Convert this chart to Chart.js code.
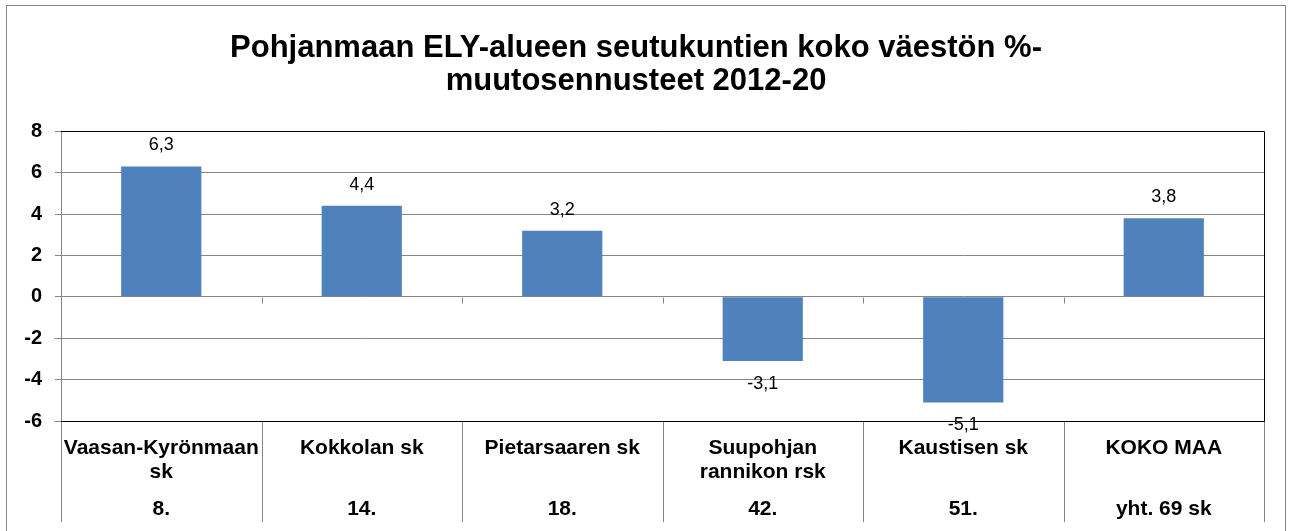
<!DOCTYPE html>
<html>
<head>
<meta charset="utf-8">
<script src="https://cdn.jsdelivr.net/npm/chart.js@4"></script>
<style>
  body { margin: 0; background: #fff; }
  #wrap { width: 1294px; height: 531px; position: relative; }
</style>
</head>
<body>
<div id="wrap"><canvas id="myChart"></canvas></div>
<script>
const colorBar = '#4f81bd';
const colorGrid = '#868686';

const titleLines = ['Pohjanmaan ELY-alueen seutukuntien koko väestön %-', 'muutosennusteet 2012-20'];
const categories = [['Vaasan-Kyrönmaan', 'sk'], ['Kokkolan sk'], ['Pietarsaaren sk'], ['Suupohjan', 'rannikon rsk'], ['Kaustisen sk'], ['KOKO MAA']];
const ranks = ['8.', '14.', '18.', '42.', '51.', 'yht. 69 sk'];
const values = [6.3, 4.4, 3.2, -3.1, -5.1, 3.8];
const yMin = -6;
const yMax = 8;
const yStep = 2;

Chart.defaults.font.family = "'Liberation Sans', Arial, sans-serif";
Chart.defaults.color = '#000';

// frame, table lines, data labels
const extras = {
  id: 'extras',
  beforeDraw(chart) {
    const c = chart.ctx;
    c.save();
    c.strokeStyle = colorGrid;
    c.lineWidth = 1;
    c.strokeRect(6.5, 5.5, 1279, 600);
    c.restore();
  },
  afterDatasetsDraw(chart) {
    const c = chart.ctx;
    const meta = chart.getDatasetMeta(0);
    c.save();
    c.font = "18px 'Liberation Sans', Arial, sans-serif";
    c.fillStyle = '#000';
    c.textAlign = 'center';
    c.textBaseline = 'middle';
    meta.data.forEach((bar, i) => {
      const v = values[i];
      const y = v >= 0 ? bar.y - 21 : bar.y + 23;
      c.fillText(v.toFixed(1).replace('.', ','), bar.x, y);
    });
    c.restore();
  },
  afterDraw(chart) {
    const c = chart.ctx;
    const a = chart.chartArea;
    const yS = chart.scales.y;
    const step = (a.right - a.left) / categories.length;
    const zero = Math.round(yS.getPixelForValue(0)) + 0.5;
    c.save();
    c.lineWidth = 1;
    c.strokeStyle = colorGrid;
    for (let i = 0; i <= categories.length; i++) {
      const x = Math.round(a.left + i * step) + 0.5;
      c.beginPath();
      c.moveTo(x, a.bottom);
      c.lineTo(x, a.bottom + 101);
      if (i > 0 && i < categories.length) {
        c.moveTo(x, zero);
        c.lineTo(x, zero + 6);
      }
      c.stroke();
    }
    c.strokeStyle = '#000';
    c.beginPath();
    c.moveTo(a.left, Math.round(a.top) + 0.5);
    c.lineTo(Math.round(a.right) + 0.5, Math.round(a.top) + 0.5);
    c.lineTo(Math.round(a.right) + 0.5, Math.round(a.bottom) + 0.5);
    c.lineTo(a.left, Math.round(a.bottom) + 0.5);
    c.stroke();
    c.restore();
  }
};

new Chart(document.getElementById('myChart'), {
  type: 'bar',
  data: {
    labels: categories,
    datasets: [{
      data: values,
      backgroundColor: colorBar,
      borderWidth: 0,
      barPercentage: 0.4,
      categoryPercentage: 1,
      xAxisID: 'x'
    }]
  },
  options: {
    responsive: true,
    maintainAspectRatio: false,
    animation: false,
    layout: { padding: { left: 8, right: 30, top: 32, bottom: 9 } },
    plugins: {
      legend: { display: false },
      tooltip: { enabled: false },
      title: {
        display: true,
        text: titleLines,
        color: '#000',
        font: { size: 31, weight: 'bold', lineHeight: 1.07 },
        padding: { top: 0, bottom: 33 }
      }
    },
    scales: {
      y: {
        min: yMin,
        max: yMax,
        ticks: { stepSize: yStep, padding: 13, font: { size: 20, weight: 'bold' }, color: '#000' },
        grid: { color: colorGrid, tickLength: 6 },
        border: { color: colorGrid },
        afterFit(s) { s.width = 53; }
      },
      x: {
        position: 'bottom',
        weight: 0,
        grid: { display: false },
        border: { display: false },
        ticks: { autoSkip: false, maxRotation: 0, padding: 7, font: { size: 21, weight: 'bold', lineHeight: 1.14 }, color: '#000' },
        afterFit(s) { s.height = 65; }
      },
      x2: {
        type: 'category',
        labels: ranks,
        position: 'bottom',
        weight: 1,
        grid: { display: false },
        border: { display: false },
        ticks: { autoSkip: false, maxRotation: 0, padding: 3, font: { size: 21, weight: 'bold', lineHeight: 1.14 }, color: '#000' },
        afterFit(s) { s.height = 36; }
      }
    }
  },
  plugins: [extras]
});
</script>
</body>
</html>
